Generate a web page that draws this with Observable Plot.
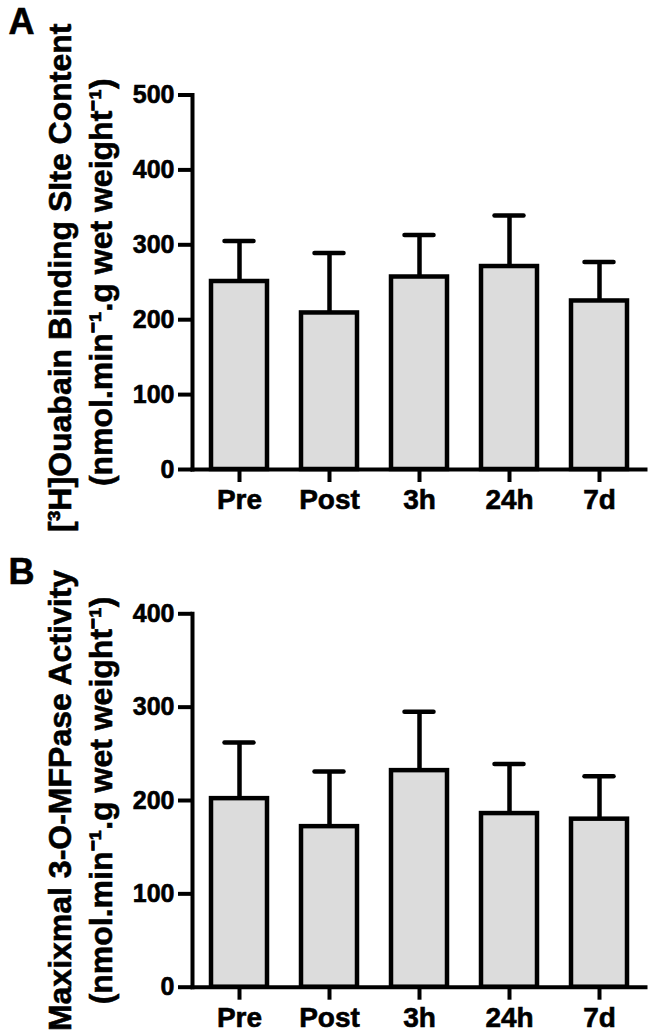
<!DOCTYPE html>
<html>
<head>
<meta charset="utf-8">
<script src="https://cdn.jsdelivr.net/npm/d3@7"></script>
<script src="https://cdn.jsdelivr.net/npm/@observablehq/plot@0.6"></script>
<style>
  html, body { margin: 0; padding: 0; background: white; }
  #chart { width: 653px; }
  #chart svg { display: block; overflow: visible; }
  .panel text { stroke: black; stroke-width: 0.6px; paint-order: stroke; }
</style>
</head>
<body>
<div id="chart"></div>
<script>
const categories = ["Pre", "Post", "3h", "24h", "7d"];

// Panel A: [3H]Ouabain binding site content
const bindingMean = [251, 209, 257, 271, 225];
const bindingSD   = [54, 80, 56, 68, 52];
const bindingTicks = [0, 100, 200, 300, 400, 500];

// Panel B: Maximal 3-O-MFPase activity
const activityMean = [202, 172, 232, 186, 180];
const activitySD   = [60, 59, 63, 53, 46];
const activityTicks = [0, 100, 200, 300, 400];

const panelLetters = ["A", "B"];
const labelLine1 = ["[³H]Ouabain Binding SIte Content", "Maxixmal 3-O-MFPase Activity"];
const labelLine2 = "(nmol.min⁻¹.g wet weight⁻¹)";

function panel(means, sds, ticks, letter, line1, layout) {
  const data = categories.map((c, i) => ({cat: c, mean: means[i], top: means[i] + sds[i]}));
  const fam = "'Liberation Sans', Arial, Helvetica, sans-serif";
  return Plot.plot({
    className: "panel",
    width: 653,
    height: layout.height,
    marginTop: layout.top,
    marginBottom: layout.bottom,
    marginLeft: 192,
    marginRight: 8,
    style: {fontFamily: fam, fontWeight: "bold", color: "black", background: "white", overflow: "visible"},
    x: {domain: categories, paddingInner: 0.378, paddingOuter: 0.2055, label: null},
    y: {domain: [ticks[0], ticks[ticks.length - 1]], label: null},
    marks: [
      Plot.barY(data, {x: "cat", y: "mean", fill: "#dcdcdc", stroke: "black", strokeWidth: 4.5}),
      Plot.ruleX(data, {x: "cat", y1: "mean", y2: "top", stroke: "black", strokeWidth: 4.5}),
      Plot.tickY(data, {x: "cat", y: "top", stroke: "black", strokeWidth: 4.5, strokeLinecap: "round", insetLeft: 13.5, insetRight: 13.5}),
      Plot.frame({anchor: "left", stroke: "black", strokeWidth: 4}),
      Plot.frame({anchor: "bottom", stroke: "black", strokeWidth: 4}),
      Plot.axisY({ticks: ticks, tickSize: 14, strokeWidth: 4, fill: "none", label: null}),
      Plot.text(ticks, {y: d => d, text: d => String(d), frameAnchor: "left", dx: -18, textAnchor: "end", lineAnchor: "middle", fontSize: 25, fontWeight: "bold", fill: "black"}),
      Plot.axisX({tickSize: 13, tickPadding: 7, strokeWidth: 4, fontSize: 28, label: null}),
      Plot.text([line1], {text: d => d, frameAnchor: "left", rotate: -90, dx: -132, dy: layout.dy1, fontSize: 32, fontWeight: "bold", textAnchor: "middle", lineAnchor: "middle", fill: "black"}),
      Plot.text([labelLine2], {text: d => d, frameAnchor: "left", rotate: -90, dx: -91, dy: 0, fontSize: 32, fontWeight: "bold", textAnchor: "middle", lineAnchor: "middle", fill: "black"}),
      Plot.text([letter], {text: d => d, frameAnchor: "top-left", dx: -184, dy: layout.letterDy, fontSize: 36, fontWeight: "bold", textAnchor: "start", lineAnchor: "bottom", fill: "black"})
    ]
  });
}

const chart = document.getElementById("chart");
chart.append(panel(bindingMean, bindingSD, bindingTicks, panelLetters[0], labelLine1[0],
  {height: 526, top: 94.5, bottom: 57, dy1: -4.5, letterDy: -61.5}));
chart.append(panel(activityMean, activitySD, activityTicks, panelLetters[1], labelLine1[1],
  {height: 510, top: 87.3, bottom: 49.3, dy1: 0, letterDy: -30.3}));
</script>
</body>
</html>
